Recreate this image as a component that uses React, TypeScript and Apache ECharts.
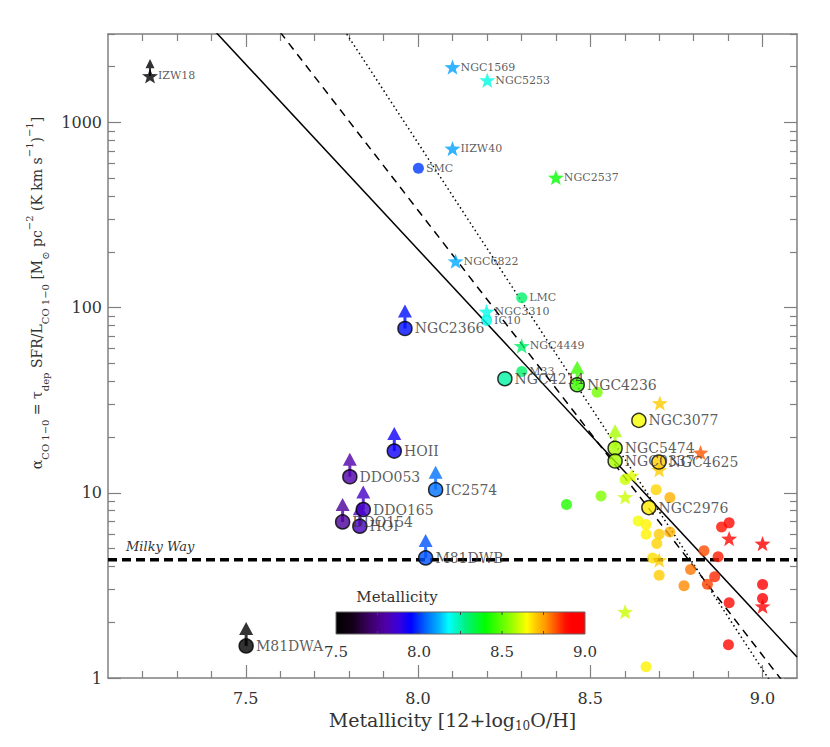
import React, { useEffect, useRef } from 'react';
import * as echarts from 'echarts';

// ---------------- DATA ----------------
// [name, metallicity 12+log(O/H), alpha_CO]
const outlinedCircles: [string, number, number][] = [
  ['NGC2366', 7.962, 77.1],
  ['HOII', 7.931, 16.8],
  ['DDO053', 7.802, 12.2],
  ['IC2574', 8.051, 10.4],
  ['DDO165', 7.841, 8.12],
  ['DDO154', 7.781, 6.96],
  ['HOI', 7.831, 6.6],
  ['M81DWB', 8.022, 4.45],
  ['M81DWA', 7.501, 1.49],
  ['NGC4214', 8.252, 41.3],
  ['NGC4236', 8.462, 38.3],
  ['NGC3077', 8.641, 24.6],
  ['NGC5474', 8.572, 17.4],
  ['NGC0337', 8.572, 14.85],
  ['NGC4625', 8.699, 14.66],
  ['NGC2976', 8.67, 8.32],
];

const stars: [string, number, number][] = [
  ['IZW18', 7.222, 1780],
  ['NGC1569', 8.1, 1990],
  ['NGC5253', 8.201, 1690],
  ['IIZW40', 8.1, 722],
  ['NGC2537', 8.4, 504],
  ['NGC6822', 8.109, 178],
  ['NGC3310', 8.199, 95.2],
  ['NGC4449', 8.301, 62.1],
  ['', 8.702, 30.5],
  ['', 8.82, 16.5],
  ['', 8.7, 13.3],
  ['', 8.62, 12.4],
  ['', 8.601, 9.49],
  ['', 8.7, 4.33],
  ['', 8.903, 5.66],
  ['', 9.0, 5.32],
  ['', 9.0, 2.44],
  ['', 8.601, 2.28],
];

const smallCircles: [string, number, number][] = [
  ['SMC', 8.001, 566],
  ['LMC', 8.301, 113],
  ['IC10', 8.199, 85.1],
  ['M33', 8.301, 45.2],
  ['', 8.52, 34.9],
  ['', 8.601, 11.8],
  ['', 8.531, 9.61],
  ['', 8.431, 8.64],
  ['', 8.691, 10.4],
  ['', 8.731, 9.42],
  ['', 8.639, 7.05],
  ['', 8.662, 6.74],
  ['', 8.662, 5.98],
  ['', 8.7, 5.98],
  ['', 8.731, 6.15],
  ['', 8.693, 5.32],
  ['', 8.681, 4.45],
  ['', 8.7, 3.59],
  ['', 8.772, 3.15],
  ['', 8.791, 3.85],
  ['', 8.83, 4.86],
  ['', 8.871, 4.51],
  ['', 8.84, 3.21],
  ['', 8.861, 3.52],
  ['', 8.881, 6.54],
  ['', 8.903, 6.88],
  ['', 8.903, 2.55],
  ['', 9.0, 3.2],
  ['', 9.0, 2.69],
  ['', 8.901, 1.51],
  ['', 8.662, 1.15],
];

// galaxies whose alpha_CO is a lower limit (drawn with an up arrow)
const lowerLimits = ['NGC2366', 'HOII', 'DDO053', 'IC2574', 'DDO165', 'DDO154', 'HOI', 'M81DWB', 'M81DWA', 'NGC4236', 'NGC5474', 'IZW18'];

// relations (end points, clipped by the plot frame)
const solidFit: [number, number][] = [[7.1, 12970], [9.1, 1.3]];
const dashedFit: [number, number][] = [[7.5, 5330], [9.1, 0.762]];
const dottedFit: [number, number][] = [[7.7, 5510], [9.1, 0.577]];
const milkyWayAlpha = 4.35;

const xRange = [7.1, 9.1];
const yRange = [1, 3000];
const xTickLabels = [7.5, 8.0, 8.5, 9.0];
const yTickLabels = [1, 10, 100, 1000];
const colorbarTicks = [7.5, 8.0, 8.5, 9.0];

// ---------------- STYLE ----------------
const cmapStops: [number, string][] = [
  [7.5, '#000000'], [7.6, '#140018'], [7.7, '#3c0064'], [7.8, '#5000a8'], [7.88, '#3800e0'],
  [7.95, '#0000ff'], [8.05, '#0070ff'], [8.12, '#00b4ff'], [8.18, '#00ffff'], [8.28, '#00f080'],
  [8.4, '#00ff00'], [8.55, '#90ff00'], [8.65, '#ffff00'], [8.7, '#ffcc00'], [8.76, '#ff9900'],
  [8.82, '#ff5500'], [8.88, '#ff1000'], [8.92, '#ff0000'], [9.0, '#ff0000'],
];

function hexToRgb(h: string) {
  return [parseInt(h.slice(1, 3), 16), parseInt(h.slice(3, 5), 16), parseInt(h.slice(5, 7), 16)];
}
function zColor(z: number): string {
  if (z <= cmapStops[0][0]) return cmapStops[0][1];
  for (let i = 1; i < cmapStops.length; i++) {
    if (z <= cmapStops[i][0]) {
      const [z0, c0] = cmapStops[i - 1];
      const [z1, c1] = cmapStops[i];
      const t = (z - z0) / (z1 - z0);
      const a = hexToRgb(c0), b = hexToRgb(c1);
      const c = a.map((v, k) => Math.round(v + (b[k] - v) * t));
      return `rgb(${c[0]},${c[1]},${c[2]})`;
    }
  }
  return cmapStops[cmapStops.length - 1][1];
}

function starPath(): string {
  const pts: string[] = [];
  for (let i = 0; i < 10; i++) {
    const a = -Math.PI / 2 + (i * Math.PI) / 5;
    const r = i % 2 === 0 ? 10 : 4.1;
    pts.push(`${(10 + r * Math.cos(a)).toFixed(2)},${(10 + r * Math.sin(a)).toFixed(2)}`);
  }
  return 'path://M' + pts.join(' L') + ' Z';
}
const STAR = starPath();
const ARROW = 'path://M7,0 L14,13 L8.5,13 L8.5,24 L5.5,24 L5.5,13 L0,13 Z';

const SERIF = 'DejaVu Serif';
const TXT = '#333';
const AXIS = '#808080';

function buildOption() {
  const lookup: Record<string, [number, number]> = {};
  [...outlinedCircles, ...stars].forEach(([n, z, a]) => { if (n) lookup[n] = [z, a]; });

  const arrowData = lowerLimits.map((n) => {
    const [z, a] = lookup[n];
    const small = n === 'IZW18';
    return {
      name: n,
      value: [z, a],
      symbolSize: small ? [9, 17] : [14, 24],
      symbolOffset: small ? [0, -8.5] : [0, -12],
      itemStyle: { color: zColor(z) },
    };
  });
  const toItems = (arr: [string, number, number][]) =>
    arr.map(([n, z, a]) => ({ name: n, value: [z, a], itemStyle: { color: zColor(z) } }));

  const minorX: number[] = [];
  for (let k = 1; k < 20; k++) {
    const v = Math.round((xRange[0] + k * 0.1) * 10) / 10;
    if (!xTickLabels.some((m) => Math.abs(m - v) < 1e-6)) minorX.push(v);
  }
  const minorY: number[] = [];
  for (let d = 1; d <= 1000; d *= 10) for (let m = 2; m <= 9; m++) if (m * d <= yRange[1]) minorY.push(m * d);

  const lineAx = { show: true, lineStyle: { color: AXIS, width: 1.5 } };
  const mkX = (pos: string, major: boolean, labels: boolean) => ({
    type: 'value', min: xRange[0], max: xRange[1], position: pos,
    axisLine: major ? lineAx : { show: false },
    axisTick: { show: true, inside: true, length: major ? 13 : 7, customValues: major ? xTickLabels : minorX, lineStyle: { color: AXIS, width: 1.2 } },
    axisLabel: labels
      ? { show: true, customValues: xTickLabels, formatter: (v: number) => v.toFixed(1), fontFamily: SERIF, fontSize: 16, color: TXT, margin: 12 }
      : { show: false },
    splitLine: { show: false },
  });
  const mkY = (pos: string, major: boolean, labels: boolean) => ({
    type: 'log', logBase: 10, min: yRange[0], max: yRange[1], position: pos,
    axisLine: major ? lineAx : { show: false },
    axisTick: { show: true, inside: true, length: major ? 13 : 7, customValues: major ? yTickLabels : minorY, lineStyle: { color: AXIS, width: 1.2 } },
    axisLabel: labels
      ? { show: true, customValues: yTickLabels, formatter: (v: number) => String(Math.round(v)), fontFamily: SERIF, fontSize: 16, color: TXT, margin: 6 }
      : { show: false },
    splitLine: { show: false },
  });

  const xMain: any = mkX('bottom', true, true);
  xMain.name = '{m|Metallicity [12+log}{s|10}{m|O/H]}';
  xMain.nameLocation = 'middle';
  xMain.nameGap = 30;
  xMain.nameTextStyle = {
    rich: {
      m: { fontFamily: SERIF, fontSize: 19, color: TXT, lineHeight: 24, verticalAlign: 'middle' },
      s: { fontFamily: SERIF, fontSize: 12, color: TXT, lineHeight: 12, verticalAlign: 'bottom' },
    },
  };

  const yMain: any = mkY('left', true, true);
  yMain.name = '{m|α}{s|CO 1−0}{m| = τ}{s|dep}{m| SFR/L}{s|CO 1−0}{m| [M}{s|⊙}{m| pc}{p|−2}{m| (K km s}{p|−1}{m|)}{p|−1}{m|]}';
  yMain.nameLocation = 'middle';
  yMain.nameRotate = 90;
  yMain.nameGap = 52;
  yMain.nameTextStyle = {
    padding: [0, 0, 0, 126],
    rich: {
      m: { fontFamily: SERIF, fontSize: 14, color: TXT, lineHeight: 26, verticalAlign: 'middle' },
      s: { fontFamily: SERIF, fontSize: 10, color: TXT, lineHeight: 12, verticalAlign: 'bottom' },
      p: { fontFamily: SERIF, fontSize: 10, color: TXT, lineHeight: 12, verticalAlign: 'top' },
    },
  };

  // colorbar geometry (legend graphic)
  const cb = { x0: 336, x1: 585, y0: 612, y1: 634 };
  const cbX = (z: number) => cb.x0 + ((z - 7.5) / 1.5) * (cb.x1 - cb.x0);
  const cbGraphic: any[] = [
    {
      type: 'rect', shape: { x: cb.x0, y: cb.y0, width: cb.x1 - cb.x0, height: cb.y1 - cb.y0 },
      style: {
        fill: { type: 'linear', x: 0, y: 0, x2: 1, y2: 0, colorStops: cmapStops.map(([z, c]) => ({ offset: (z - 7.5) / 1.5, color: c })) },
        stroke: '#666', lineWidth: 1,
      },
      z: 100,
    },
    { type: 'text', x: 397, y: 597, style: { text: 'Metallicity', fontFamily: SERIF, fontSize: 15, fill: TXT, align: 'center', verticalAlign: 'middle' }, z: 100 },
    ...colorbarTicks.map((t) => ({
      type: 'text', x: cbX(t), y: 652, style: { text: t.toFixed(1), fontFamily: SERIF, fontSize: 15, fill: TXT, align: 'center', verticalAlign: 'middle' }, z: 100,
    })),
    ...[7.75, 8.0, 8.25, 8.5, 8.75].flatMap((t) => [
      { type: 'line', shape: { x1: cbX(t), y1: cb.y0, x2: cbX(t), y2: cb.y0 + 3 }, style: { stroke: '#444', lineWidth: 1 }, z: 101 },
      { type: 'line', shape: { x1: cbX(t), y1: cb.y1, x2: cbX(t), y2: cb.y1 - 3 }, style: { stroke: '#444', lineWidth: 1 }, z: 101 },
    ]),
  ];

  const lineSeries = (data: [number, number][], type: any, width: number) => ({
    type: 'line', data, symbol: 'none', clip: true, silent: true, z: 1,
    lineStyle: { color: '#000', width, type },
  });

  return {
    animation: false,
    backgroundColor: '#fff',
    grid: { left: 108, right: 33, top: 34, bottom: 69, containLabel: false },
    xAxis: [xMain, mkX('bottom', false, false), mkX('top', true, false), mkX('top', false, false)],
    yAxis: [yMain, mkY('left', false, false), mkY('right', true, false), mkY('right', false, false)],
    graphic: [
      { type: 'text', x: 126, y: 546, style: { text: 'Milky Way', fontFamily: SERIF, fontStyle: 'italic', fontSize: 13, fill: TXT, align: 'left', verticalAlign: 'middle' } },
      ...cbGraphic,
    ],
    series: [
      lineSeries(solidFit, 'solid', 1.5),
      lineSeries(dashedFit, [8, 6], 1.5),
      lineSeries(dottedFit, [1.5, 3], 1.5),
      lineSeries([[xRange[0], milkyWayAlpha], [xRange[1], milkyWayAlpha]], [9, 5], 3.5),
      {
        type: 'scatter', symbol: ARROW, data: arrowData, z: 3, silent: true,
        itemStyle: { borderWidth: 0 },
      },
      {
        type: 'scatter', symbol: 'circle', symbolSize: 11, data: toItems(smallCircles), z: 4, silent: true,
        label: { show: true, position: 'right', distance: 2, formatter: '{b}', fontFamily: SERIF, fontSize: 11, color: TXT },
      },
      {
        type: 'scatter', symbol: STAR, symbolKeepAspect: true, symbolSize: 16, data: toItems(stars), z: 5, silent: true,
        label: { show: true, position: 'right', distance: 0, formatter: '{b}', fontFamily: SERIF, fontSize: 11, color: TXT },
      },
      {
        type: 'scatter', symbol: 'circle', symbolSize: 14, data: toItems(outlinedCircles), z: 6, silent: true,
        itemStyle: { borderColor: '#000', borderWidth: 1.5 },
        label: { show: true, position: 'right', distance: 2, formatter: '{b}', fontFamily: SERIF, fontSize: 14, color: TXT },
      },
    ],
  };
}

export default function App() {
  const ref = useRef<HTMLDivElement>(null);
  useEffect(() => {
    document.body.style.margin = '0';
    const chart = echarts.init(ref.current!, null, { renderer: 'svg' });
    chart.setOption(buildOption() as any);
    return () => chart.dispose();
  }, []);
  return <div ref={ref} style={{ width: 830, height: 747 }} />;
}
